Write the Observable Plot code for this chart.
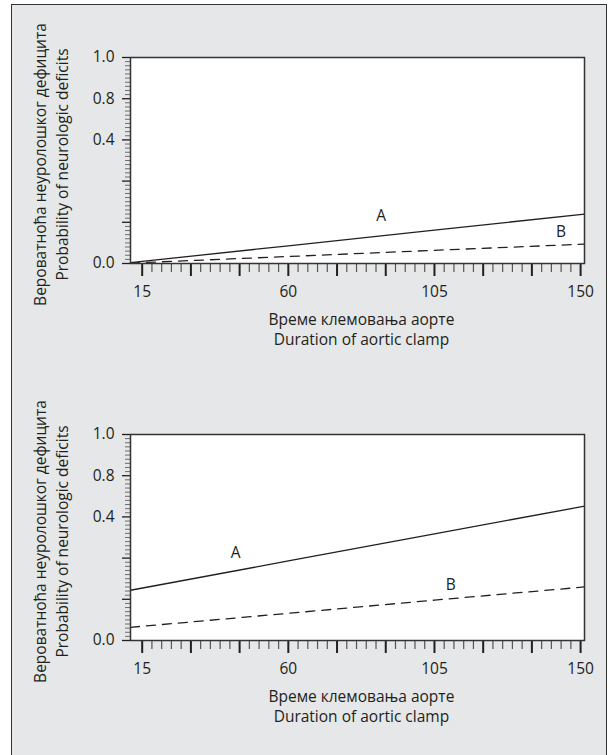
<!DOCTYPE html>
<html>
<head>
<meta charset="utf-8">
<script src="https://cdn.jsdelivr.net/npm/d3@7"></script>
<script src="https://cdn.jsdelivr.net/npm/@observablehq/plot@0.6"></script>
<style>
  html, body { margin: 0; padding: 0; background: white; overflow: hidden; }
  #page { position: relative; width: 609px; height: 755px; overflow: hidden; }
  #box { position: absolute; left: 11px; top: 4px; width: 596px; height: 800px; box-sizing: border-box;
         border: 1.5px solid #333; background: #e6e7e8; }
  .panel { position: absolute; left: 0; }
</style>
</head>
<body>
<div id="page"><div id="box"></div></div>
<script>
// ---- data ----
const xDomain = [11.4, 151.2];                       // duration of aortic clamp (min)
const xMajorTicks = [15, 30, 45, 60, 75, 90, 105, 120, 135, 150];
const xLabeledTicks = [15, 60, 105, 150];
const xMinorTicks = d3.range(15, 151, 3).filter(v => v % 15 !== 0);
const yMajorTicks = [0, 1, 2, 3, 4, 5];               // axis positions
const yTickLabels = ["0.0", "", "", "0.4", "0.8", "1.0"];
const yMinorTicks = d3.range(0, 50).map(v => v / 10).filter(v => v % 1 !== 0);

const durations = [11.4, 60, 105, 151.2];
// panel 1 (values in axis-position units)
const top_A = [0.02, 0.43, 0.81, 1.20];
const top_B = [0.01, 0.17, 0.32, 0.47];
// panel 2
const bot_A = [1.22, 1.93, 2.59, 3.26];
const bot_B = [0.32, 0.66, 0.98, 1.30];

const labelNames = ["A", "B"];
const top_labelX = [88.6, 144];
const top_labelY = [1.16, 0.77];
const bot_labelX = [43.8, 110];
const bot_labelY = [2.13, 1.34];

const xTitle = "Време клемовања аорте\nDuration of aortic clamp";
const yTitle = "Вероватноћа неуролошког дефицита\nProbability of neurologic deficits";

const ink = "#231f20";
const fs = 15.5;

function panel(aVals, bVals, lx, ly) {
  const a = durations.map((d, i) => ({x: d, y: aVals[i]}));
  const b = durations.map((d, i) => ({x: d, y: bVals[i]}));
  const labels = labelNames.map((t, i) => ({t, x: lx[i], y: ly[i]}));
  const xMid = (xLabeledTicks[0] + xLabeledTicks[xLabeledTicks.length - 1]) / 2;
  return Plot.plot({
    width: 609, height: 377,
    marginLeft: 130, marginRight: 25, marginTop: 57, marginBottom: 114,
    style: {background: "transparent", fontFamily: "'Open Sans', sans-serif", fontSize: fs + "px", color: ink, overflow: "visible"},
    x: {domain: xDomain},
    y: {domain: [0, 5]},
    marks: [
      Plot.frame({fill: "white", stroke: null}),
      Plot.axisY({ticks: yMinorTicks, tickSize: 5, tickFormat: () => "", stroke: "#6d6d6d", strokeWidth: 1, label: null}),
      Plot.axisY({ticks: yMajorTicks, tickSize: 8, tickPadding: 8, stroke: ink, strokeWidth: 1.3,
                  tickFormat: d => yTickLabels[yMajorTicks.indexOf(d)], label: null, fill: ink, fontSize: fs}),
      Plot.axisX({ticks: xMinorTicks, tickSize: 9, tickFormat: () => "", stroke: "#555", strokeWidth: 1.2, label: null}),
      Plot.axisX({ticks: xMajorTicks, tickSize: 13, tickPadding: 9, stroke: ink, strokeWidth: 2,
                  tickFormat: d => xLabeledTicks.includes(d) ? String(d) : "", label: null, fill: ink, fontSize: fs}),
      Plot.line(a, {x: "x", y: "y", stroke: ink, strokeWidth: 1.3}),
      Plot.line(b, {x: "x", y: "y", stroke: ink, strokeWidth: 1.3, strokeDasharray: "9,7"}),
      Plot.text(labels, {x: "x", y: "y", text: "t", fill: ink, fontSize: fs}),
      Plot.text([xTitle], {x: () => xMid, frameAnchor: "bottom", dy: 65, lineAnchor: "middle", textAnchor: "middle",
                           lineHeight: 1.3, fill: ink, fontSize: fs}),
      Plot.text([yTitle], {frameAnchor: "left", rotate: -90, dx: -80.5, dy: 4, lineAnchor: "middle", textAnchor: "middle",
                           lineHeight: 1.38, fill: ink, fontSize: fs}),
      Plot.frame({stroke: "#333", strokeWidth: 1.5})
    ]
  });
}

const page = document.getElementById("page");
const p1 = panel(top_A, top_B, top_labelX, top_labelY);
p1.classList.add("panel"); p1.style.top = "0px";
const p2 = panel(bot_A, bot_B, bot_labelX, bot_labelY);
p2.classList.add("panel"); p2.style.top = "377px";
page.appendChild(p1);
page.appendChild(p2);
</script>
</body>
</html>
